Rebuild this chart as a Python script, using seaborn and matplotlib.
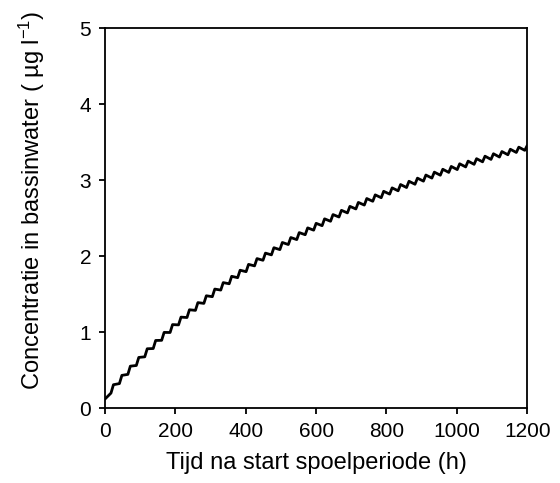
import numpy as np
import pandas as pd
import matplotlib
matplotlib.use("Agg")
import matplotlib.pyplot as plt
import seaborn as sns

# Dagelijkse dosering: tijdstip (h) van elke dosis
dosis_tijd = list(range(0, 1201, 24))
stijgduur = 7  # uren waarin de concentratie na een dosis oploopt

# Concentratie voor de dosis (dal) en na het oplopen (piek), in ug/l
dal = [None,
       0.198, 0.323, 0.444, 0.561, 0.675, 0.784, 0.892, 0.995, 1.095, 1.192,
       1.286, 1.378, 1.466, 1.553, 1.636, 1.716, 1.795, 1.871, 1.945, 2.016,
       2.085, 2.152, 2.217, 2.281, 2.341, 2.400, 2.458, 2.514, 2.568, 2.620,
       2.671, 2.721, 2.768, 2.815, 2.859, 2.902, 2.945, 2.986, 3.026, 3.064,
       3.101, 3.138, 3.173, 3.207, 3.240, 3.272, 3.303, 3.333, 3.363, 3.391]
piek = [0.120,
        0.308, 0.431, 0.552, 0.667, 0.781, 0.890, 0.996, 1.099, 1.197, 1.294,
        1.388, 1.478, 1.566, 1.651, 1.734, 1.814, 1.891, 1.967, 2.039, 2.110,
        2.179, 2.244, 2.309, 2.371, 2.431, 2.490, 2.546, 2.602, 2.654, 2.706,
        2.757, 2.805, 2.852, 2.897, 2.941, 2.984, 3.025, 3.066, 3.104, 3.142,
        3.179, 3.214, 3.249, 3.281, 3.314, 3.346, 3.375, 3.405, 3.433, 3.455]

# zaagtand opbouwen: dal -> piek rond elk dosistijdstip
tijd, conc = [], []
for t, d, p in zip(dosis_tijd, dal, piek):
    if d is not None:
        tijd.append(t - stijgduur)
        conc.append(d)
    tijd.append(t)
    conc.append(p)
df = pd.DataFrame({"tijd": tijd, "conc": conc})

sns.set_theme(style="ticks")
plt.rcParams["font.family"] = ["Liberation Sans", "DejaVu Sans"]
plt.rcParams["mathtext.fontset"] = "custom"
plt.rcParams["mathtext.rm"] = "Liberation Sans"
plt.rcParams["mathtext.default"] = "regular"

fig = plt.figure(figsize=(5.6, 4.83), dpi=100)
ax = fig.add_axes([0.1875, 0.155, 0.754, 0.787])

sns.lineplot(data=df, x="tijd", y="conc", estimator=None, sort=False,
             color="black", linewidth=2.0, ax=ax)

ax.set_xlim(0, 1200)
ax.set_ylim(0, 5)
ax.set_xticks(range(0, 1201, 200))
ax.set_yticks(range(0, 6))
for s in ax.spines.values():
    s.set_visible(True)
    s.set_color("black")
    s.set_linewidth(1.3)
ax.tick_params(direction="out", length=4, width=1.3, labelsize=15,
               colors="black", labelcolor="black", pad=6)
ax.set_xlabel("Tijd na start spoelperiode (h)", fontsize=17, color="black",
              labelpad=8)
ax.set_ylabel(r"Concentratie in bassinwater ( µg l$^{-1}$)", fontsize=17,
              color="black")
ax.yaxis.set_label_coords(-0.137, 0.547)

fig.savefig("out.png", dpi=100)
plt.close(fig)
